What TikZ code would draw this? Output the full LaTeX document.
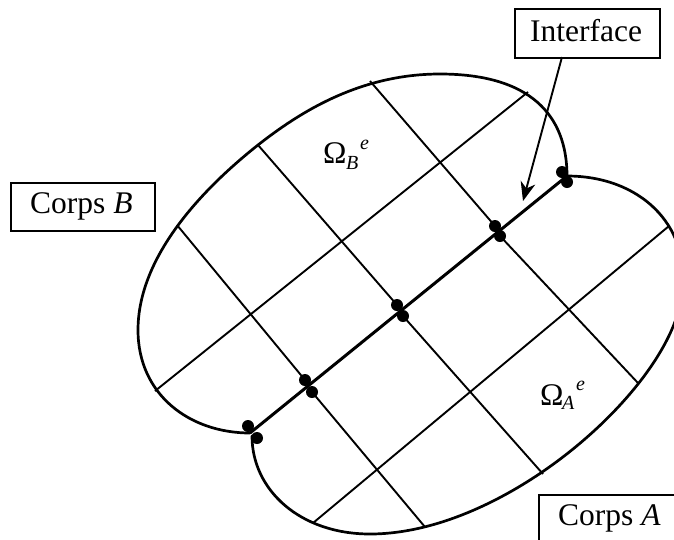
\documentclass[tikz,border=0pt]{standalone}
\usepackage{fontspec}
\setmainfont{Liberation Serif}
\usetikzlibrary{arrows.meta}
\tikzset{
  x=1pt,y=-1pt,
  outline/.style={line width=2.7pt,line join=round,line cap=round},
  gridline/.style={line width=1.9pt},
  iface/.style={line width=3pt},
  labelbox/.style={draw,line width=1.7pt,rectangle,inner sep=0pt,anchor=north west,fill=white},
  labeltext/.style={inner sep=0pt,anchor=base west,font=\fontsize{31.5}{34}\selectfont},
  smalltext/.style={inner sep=0pt,anchor=base west,font=\fontsize{20}{22}\selectfont\itshape},
  contact/.style={circle,fill=black,inner sep=0pt,minimum size=12pt},
  pointer/.style={line width=1.9pt,-{Stealth[length=19pt,width=15pt,inset=6pt]}}
}
\begin{document}
\begin{tikzpicture}
\useasboundingbox (0,0) rectangle (674,539);
\clip (0,0) rectangle (674,539);
\fill[white] (0,0) rectangle (674,539);
% end points on the outline and the interface
\coordinate (il) at (250,433);
\coordinate (ir) at (567,176);
\coordinate (p1l) at (155,391);
\coordinate (p1r) at (528,92);
\coordinate (p2l) at (313,523);
\coordinate (p2r) at (669,226);
\coordinate (t1a) at (177,225);
\coordinate (t1b) at (425,527);
\coordinate (t2a) at (258,145);
\coordinate (t2b) at (543,474);
\coordinate (t3a) at (370,81);
\coordinate (t3b) at (638,383);
% outline
\draw[outline] (ir) .. controls (567,115) and (530,74) .. (440,74)
  .. controls (360,74) and (300,112) .. (t2a)
  .. controls (205,187) and (138,255) .. (138,330)
  .. controls (138,395) and (190,433) .. (il);
\draw[outline] (ir) .. controls (640,176) and (690,225) .. (682,290)
  .. controls (678,380) and (510,534) .. (370,534)
  .. controls (300,534) and (252,490) .. (252,436);
% grid
\draw[gridline] (p1l) -- (p1r);
\draw[gridline] (p2l) -- (p2r);
% contact points
\node[contact] (a1) at (248,426) {};
\node[contact] (b1) at (257,438) {};
\node[contact] (a2) at (305,380) {};
\node[contact] (b2) at (312,392) {};
\node[contact] (a3) at (397,305) {};
\node[contact] (b3) at (403,316) {};
\node[contact] (a4) at (495,226) {};
\node[contact] (b4) at (500,236) {};
\node[contact] (a5) at (562,172) {};
\node[contact] (b5) at (567,182) {};
\draw[gridline] (t1a) -- (a2.center);
\draw[gridline] (b2.center) -- (t1b);
\draw[gridline] (t2a) -- (a3.center);
\draw[gridline] (b3.center) -- (t2b);
\draw[gridline] (t3a) -- (a4.center);
\draw[gridline] (b4.center) -- (t3b);
\draw[iface] (il) -- (ir);
% labels
\node[labelbox,minimum width=145pt,minimum height=49pt] (ifbox) at (514,8) {};
\node[labeltext] (iftext) at (530,41) {Interface};
\node[labelbox,minimum width=144pt,minimum height=48pt] (bbox) at (10,182) {};
\node[labeltext] (btext) at (30,213) {Corps \textit{B}};
\node[labelbox,minimum width=170pt,minimum height=70pt] (abox) at (538,494) {};
\node[labeltext] (atext) at (558,525) {Corps \textit{A}};
\coordinate (ifstart) at (562,57);
\coordinate (iftip) at (523,201);
\draw[pointer] (ifstart) -- (iftip);
\node[labeltext] (ob) at (323,163) {Ω};
\node[smalltext] (obs) at (346,169) {B};
\node[smalltext] (obe) at (360,149) {e};
\node[labeltext] (oa) at (540,405) {Ω};
\node[smalltext] (oas) at (562,409) {A};
\node[smalltext] (oae) at (576,390) {e};
\end{tikzpicture}
\end{document}
